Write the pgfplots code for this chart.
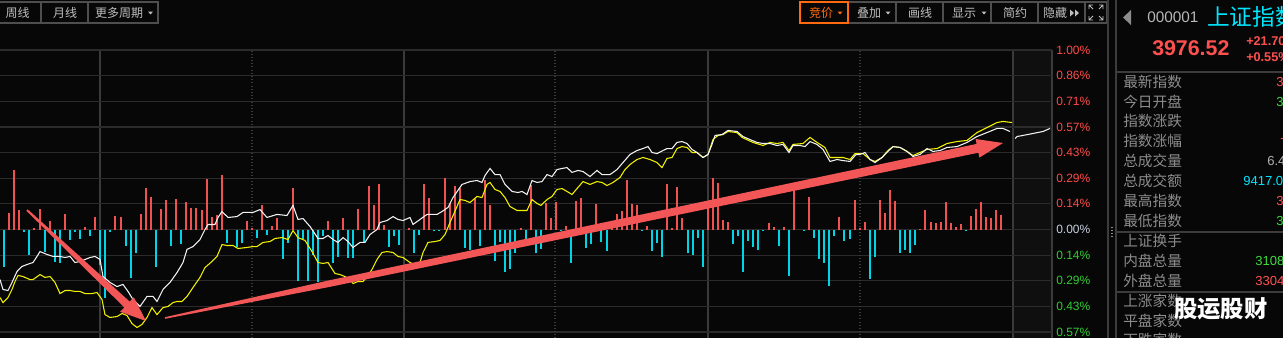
\documentclass[border=0pt]{standalone}
\usepackage{pgfplots}
\pgfplotsset{compat=1.18}
\usepackage{fontspec}
\setmainfont{Liberation Sans}
\newfontfamily\cjk{Noto Sans CJK SC}
\definecolor{bg}{HTML}{070707}
\definecolor{bgr}{HTML}{0F0F0F}
\definecolor{gridc}{HTML}{2B2B2B}
\definecolor{vgrid}{HTML}{3A3A3A}
\definecolor{zeroc}{HTML}{4A4A4A}
\definecolor{redt}{HTML}{FF4A4A}
\definecolor{greent}{HTML}{33CC33}
\definecolor{zerot}{HTML}{C8D0E0}
\definecolor{barred}{HTML}{F05252}
\definecolor{barcyan}{HTML}{00D4E6}
\definecolor{whiteline}{HTML}{F2F2F2}
\definecolor{yellowline}{HTML}{F2F200}
\definecolor{arrowc}{HTML}{F25656}
\definecolor{btntext}{HTML}{BEBEBE}
\definecolor{btnborder}{HTML}{4E4E4E}
\definecolor{orangec}{HTML}{FF6A10}
\definecolor{labelc}{HTML}{8C8C8C}
\definecolor{valred}{HTML}{FF5050}
\definecolor{valgreen}{HTML}{3CDC3C}
\definecolor{valcyan}{HTML}{00E6FF}
\definecolor{sepc}{HTML}{3C3C3C}
\pgfplotsset{myax/.style={at={(0bp,-253.5bp)}, anchor=south west, scale only axis,
  width=789bp, height=216bp, xmin=0, xmax=1052, clip=false}}
\begin{document}
\begin{tikzpicture}[
  btn/.style={anchor=center, inner sep=0pt, text=btntext, font=\cjk\fontsize{9bp}{10bp}\selectfont},
  lbl/.style={anchor=west, inner sep=0pt, text=labelc, font=\cjk\fontsize{11bp}{12bp}\selectfont},
  val/.style={anchor=west, inner sep=0pt, font=\fontsize{9.8bp}{11bp}\selectfont}]
\useasboundingbox (0bp,0bp) rectangle (962.25bp,-253.5bp);
\clip (0bp,0bp) rectangle (962.25bp,-253.5bp);
\begin{scope}[x=0.75bp,y=-0.75bp]
\fill[bg] (0,0) rectangle (1283,338);
\fill[bgr] (1013,50) rectangle (1052,338);
\end{scope}

% grid axis
\begin{axis}[myax, ymin=-0.6045, ymax=1.0,
  axis line style={draw=none}, tick style={draw=none},
  xtick={100,404,708,1013,1052}, xticklabels={},
  extra x ticks={252,555,860}, extra x tick labels={},
  extra x tick style={grid=major, major grid style={vgrid, dotted, line width=0.9bp}},
  ytick={-0.5714,-0.4286,-0.2857,-0.1429,0.1429,0.2857,0.4286,0.5714,0.7143,0.8571,1.0},
  yticklabels={\textcolor{greent}{0.57\%},\textcolor{greent}{0.43\%},\textcolor{greent}{0.29\%},\textcolor{greent}{0.14\%},
   \textcolor{redt}{0.14\%},\textcolor{redt}{0.29\%},\textcolor{redt}{0.43\%},\textcolor{redt}{0.57\%},\textcolor{redt}{0.71\%},\textcolor{redt}{0.86\%},\textcolor{redt}{1.00\%}},
  extra y ticks={0}, extra y tick labels={\textcolor{zerot}{0.00\%}},
  extra y tick style={grid=major, major grid style={zeroc, line width=1.4bp}},
  xmajorgrids, ymajorgrids,
  x grid style={vgrid, line width=1bp},
  y grid style={gridc, line width=0.9bp},
  yticklabel pos=right,
  yticklabel style={anchor=west, inner sep=0pt, xshift=3bp, font=\fontsize{9bp}{10bp}\selectfont}]
\end{axis}

% bars axis (own hidden scale)
\begin{axis}[myax, ymin=-108, ymax=180, hide axis]
\addplot[ycomb, draw=barred, line width=1.3bp, mark=none] coordinates {
(9,17)(14,60)(19,20)(34,2)(40,21)(50,9)(65,16)(85,3)(95,13)(115,14)(121,13)(141,16)(146,42)(151,33)(161,21)(166,30)(176,31)(186,28)(191,22)(196,22)(202,20)(207,51)(212,13)(217,15)(222,55)(247,9)(252,2)(262,25)(272,4)(277,12)(293,42)(328,9)(343,12)(358,21)(369,44)(374,25)(379,46)(384,5)(409,2)(424,46)(429,32)(445,52)(450,27)(455,44)(460,42)(475,32)(485,50)(490,25)(521,2)(531,45)(546,27)(551,12)(556,28)(566,4)(576,29)(581,32)(596,26)(612,2)(617,16)(622,19)(627,50)(632,26)(637,25)(647,4)(667,46)(672,2)(677,43)(682,12)(708,25)(713,52)(718,47)(723,10)(728,8)(769,7)(774,3)(784,3)(794,42)(809,33)(839,13)(855,30)(860,2)(865,8)(880,30)(885,17)(890,40)(895,29)(920,1)(925,20)(931,8)(936,7)(941,8)(946,28)(951,7)(956,3)(961,6)(971,14)(976,21)(981,28)(986,13)(991,12)(996,20)(1001,15)};
\addplot[ycomb, draw=barcyan, line width=1.3bp, mark=none] coordinates {
(4,-37)(24,-2)(29,-25)(45,-22)(55,-32)(60,-33)(70,-10)(75,-2)(80,-9)(90,-6)(100,-35)(105,-68)(110,-2)(126,-16)(131,-48)(136,-23)(156,-37)(171,-16)(181,-14)(227,-13)(237,-17)(242,-13)(257,-8)(267,-5)(283,-29)(288,-13)(298,-51)(303,-9)(308,-51)(313,-25)(318,-52)(323,-6)(333,-33)(338,-27)(348,-28)(353,-28)(364,-12)(389,-17)(394,-6)(399,-15)(414,-23)(419,-5)(434,-1)(439,-1)(465,-18)(470,-20)(480,-16)(495,-31)(500,-12)(505,-42)(510,-39)(515,-23)(526,-15)(536,-23)(541,-19)(561,-1)(571,-33)(586,-18)(591,-14)(601,-12)(607,-21)(642,-1)(652,-21)(657,-13)(662,-27)(688,-23)(693,-25)(698,-8)(703,-37)(733,-14)(738,-6)(743,-42)(748,-11)(753,-17)(758,-20)(763,-1)(779,-16)(789,-46)(804,-1)(814,-8)(819,-29)(824,-33)(829,-56)(834,-6)(844,-11)(850,-9)(870,-49)(875,-27)(900,-23)(905,-20)(910,-23)(915,-15)(966,-1)};
\end{axis}

% lines axis (percent)
\begin{axis}[myax, ymin=-0.6045, ymax=1.0, hide axis]
\addplot[yellowline, line width=0.8bp, mark=none] coordinates {
(0,-0.379)(3,-0.407)(8,-0.379)(12,-0.334)(15,-0.290)(18,-0.256)(23,-0.262)(30,-0.279)(33,-0.279)(40,-0.251)(45,-0.267)(50,-0.262)(55,-0.295)(60,-0.357)(65,-0.340)(70,-0.340)(75,-0.345)(80,-0.345)(85,-0.357)(92,-0.357)(97,-0.351)(102,-0.390)(105,-0.474)(110,-0.490)(117,-0.485)(122,-0.468)(127,-0.479)(132,-0.524)(137,-0.546)(142,-0.529)(147,-0.490)(152,-0.435)(157,-0.474)(163,-0.435)(168,-0.429)(173,-0.407)(177,-0.401)(182,-0.401)(187,-0.373)(193,-0.323)(200,-0.267)(205,-0.212)(212,-0.178)(217,-0.150)(222,-0.084)(227,-0.089)(233,-0.089)(238,-0.106)(247,-0.100)(253,-0.095)(257,-0.095)(263,-0.072)(270,-0.067)(275,-0.050)(282,-0.045)(288,-0.056)(293,-0.006)(298,-0.045)(305,-0.061)(312,-0.123)(318,-0.184)(323,-0.189)(328,-0.184)(335,-0.245)(340,-0.251)(345,-0.262)(350,-0.279)(353,-0.301)(358,-0.290)(363,-0.290)(367,-0.262)(372,-0.223)(377,-0.167)(382,-0.128)(387,-0.123)(393,-0.128)(398,-0.150)(403,-0.156)(410,-0.184)(417,-0.201)(420,-0.184)(423,-0.128)(428,-0.072)(435,-0.067)(440,-0.061)(445,-0.028)(450,0.039)(457,0.128)(460,0.167)(465,0.162)(470,0.150)(477,0.184)(482,0.178)(487,0.251)(490,0.262)(495,0.223)(500,0.212)(505,0.178)(510,0.128)(517,0.106)(527,0.106)(532,0.167)(537,0.145)(541,0.134)(547,0.167)(552,0.184)(557,0.223)(562,0.228)(567,0.212)(572,0.195)(577,0.228)(583,0.267)(590,0.251)(597,0.267)(602,0.262)(607,0.245)(613,0.262)(620,0.290)(625,0.334)(630,0.362)(637,0.390)(643,0.401)(650,0.390)(657,0.373)(662,0.345)(667,0.396)(672,0.401)(677,0.451)(682,0.462)(687,0.457)(692,0.429)(697,0.429)(703,0.401)(708,0.418)(713,0.501)(718,0.524)(723,0.529)(728,0.546)(737,0.540)(742,0.513)(753,0.485)(763,0.468)(770,0.485)(777,0.479)(783,0.485)(789,0.440)(793,0.474)(803,0.479)(810,0.513)(817,0.485)(825,0.457)(830,0.401)(837,0.401)(843,0.401)(850,0.390)(855,0.423)(863,0.423)(870,0.390)(875,0.379)(882,0.401)(888,0.440)(893,0.462)(900,0.457)(907,0.435)(913,0.412)(920,0.429)(927,0.446)(937,0.451)(947,0.479)(957,0.490)(967,0.496)(977,0.540)(987,0.568)(997,0.596)(1003,0.602)(1012,0.596)};
\addplot[whiteline, line width=0.8bp, mark=none] coordinates {
(0,-0.279)(3,-0.334)(8,-0.340)(12,-0.295)(17,-0.234)(22,-0.206)(27,-0.195)(33,-0.184)(37,-0.150)(40,-0.123)(47,-0.139)(53,-0.150)(60,-0.150)(65,-0.156)(70,-0.150)(75,-0.184)(80,-0.178)(85,-0.167)(90,-0.156)(95,-0.150)(100,-0.167)(103,-0.262)(110,-0.295)(117,-0.318)(123,-0.306)(128,-0.345)(133,-0.390)(140,-0.429)(147,-0.373)(153,-0.373)(157,-0.401)(163,-0.334)(170,-0.295)(177,-0.240)(183,-0.184)(187,-0.111)(193,-0.095)(200,-0.056)(205,0)(208,0.028)(215,0.028)(218,0.067)(222,0.100)(228,0.067)(237,0.072)(243,0.095)(253,0.095)(260,0.111)(267,0.067)(277,0.084)(287,0.078)(293,0.134)(298,0.056)(303,0.061)(310,0.017)(318,-0.050)(323,-0.050)(328,-0.033)(333,-0.056)(338,-0.072)(343,-0.045)(348,-0.067)(353,-0.100)(360,-0.072)(365,-0.072)(370,-0.028)(377,0)(380,0.039)(387,0.050)(393,0.072)(398,0.056)(403,0.050)(410,0.067)(413,0.028)(420,0.056)(427,0.084)(437,0.084)(442,0.100)(448,0.123)(453,0.178)(462,0.251)(470,0.267)(477,0.273)(482,0.262)(485,0.301)(490,0.340)(495,0.306)(500,0.306)(505,0.251)(512,0.212)(518,0.206)(522,0.212)(527,0.195)(532,0.273)(537,0.262)(542,0.267)(547,0.306)(552,0.295)(557,0.334)(562,0.340)(567,0.345)(572,0.318)(578,0.329)(583,0.323)(590,0.295)(597,0.329)(602,0.306)(610,0.306)(617,0.334)(623,0.373)(630,0.418)(637,0.440)(643,0.451)(648,0.462)(652,0.429)(657,0.423)(663,0.440)(667,0.451)(672,0.451)(677,0.485)(682,0.490)(687,0.479)(692,0.446)(697,0.429)(703,0.401)(708,0.418)(712,0.474)(715,0.524)(722,0.529)(728,0.552)(737,0.546)(743,0.518)(750,0.501)(757,0.485)(763,0.479)(770,0.479)(777,0.468)(783,0.474)(789,0.429)(793,0.468)(800,0.468)(805,0.462)(810,0.490)(817,0.474)(823,0.446)(830,0.379)(837,0.390)(843,0.384)(850,0.379)(856,0.418)(860,0.418)(865,0.429)(870,0.390)(875,0.373)(882,0.401)(888,0.435)(893,0.462)(900,0.457)(907,0.435)(913,0.407)(920,0.418)(927,0.451)(933,0.435)(940,0.440)(947,0.457)(957,0.462)(967,0.485)(977,0.518)(987,0.540)(997,0.563)(1003,0.563)(1010,0.546)};
\addplot[whiteline, line width=0.8bp, mark=none] coordinates {
(1015,0.507)(1017,0.518)(1023,0.524)(1033,0.535)(1043,0.546)(1050,0.563)};
\end{axis}

\begin{scope}[x=0.75bp,y=-0.75bp]
% annotation arrows
\fill[arrowc] (27.7,209.3) -- (129.7,301.6) -- (133.8,297.2) -- (146,321) -- (120.2,311.8) -- (124.3,307.4) -- (26.3,210.7) -- cycle;
\fill[arrowc] (164.8,317.2) -- (329.3,280.3) -- (976.6,143.9) -- (975.6,139.0) -- (1003,143) -- (979.4,157.6) -- (978.4,152.7) -- (330.7,286.7) -- (165.2,318.8) -- cycle;

% toolbar
\draw[btnborder, line width=0.9bp] (-1,2) rectangle (41,23) (41,2) rectangle (88,23) (88,2) rectangle (158,23);
\node[btn] at (17.5,13) {周线};
\node[btn] at (65,13) {月线};
\node[btn] at (119,13) {更多周期};
\fill[btntext] (148,11.5) -- (153,11.5) -- (150.5,14.5) -- cycle;
\draw[btnborder, line width=0.9bp] (848,2) rectangle (896,23) (896,2) rectangle (943,23) (943,2) rectangle (991,23) (991,2) rectangle (1038,23) (1038,2) rectangle (1085,23) (1085,2) rectangle (1107,23);
\draw[orangec, line width=0.9bp] (800,2) rectangle (848,23);
\node[btn, text=orangec] at (821,13) {竞价};
\fill[orangec] (837.5,11.5) -- (842.5,11.5) -- (840,14.5) -- cycle;
\node[btn] at (869,13) {叠加};
\fill[btntext] (885.5,11.5) -- (890.5,11.5) -- (888,14.5) -- cycle;
\node[btn] at (920,13) {画线};
\node[btn] at (964,13) {显示};
\fill[btntext] (981.5,11.5) -- (986.5,11.5) -- (984,14.5) -- cycle;
\node[btn] at (1015,13) {简约};
\node[btn] at (1055,13) {隐藏};
\fill[btntext] (1070,9.5) -- (1070,16.5) -- (1074,13) -- cycle;
\fill[btntext] (1075,9.5) -- (1075,16.5) -- (1079,13) -- cycle;
\draw[btntext, line width=0.7bp] (1089,9) -- (1089,5) -- (1093,5) (1089,5) -- (1093,9)
  (1103,9) -- (1103,5) -- (1099,5) (1103,5) -- (1099,9)
  (1089,16) -- (1089,20) -- (1093,20) (1089,20) -- (1093,16)
  (1103,16) -- (1103,20) -- (1099,20) (1103,20) -- (1099,16);

% sidebar
\draw[sepc, line width=1bp] (1108,0) -- (1108,338) (1116,0) -- (1116,338);
\draw[sepc, line width=1.2bp] (1116,72) -- (1283,72) (1116,232) -- (1283,232) (1116,292) -- (1283,292);
\foreach \yy in {227,230,233,236} \fill[labelc] (1111,\yy) rectangle (1113,\yy+1);
\fill[labelc] (1131,10) -- (1131,25) -- (1123,17.5) -- cycle;
\node[anchor=west, inner sep=0pt, text=btntext!110, font=\fontsize{11.5bp}{12bp}\selectfont] at (1147,17) {000001};
\node[anchor=west, inner sep=0pt, text=valcyan, font=\cjk\fontsize{17bp}{18bp}\selectfont] at (1207,17) {上证指数};
\node[anchor=west, inner sep=0pt, text=valred, font=\bfseries\fontsize{16bp}{17bp}\selectfont] at (1152,48) {3976.52};
\node[anchor=west, inner sep=0pt, text=valred, font=\bfseries\fontsize{9.5bp}{10bp}\selectfont] at (1246,41) {+21.70};
\node[anchor=west, inner sep=0pt, text=valred, font=\bfseries\fontsize{9.5bp}{10bp}\selectfont] at (1246,57) {+0.55\%};
\foreach \t/\yy in {最新指数/82,今日开盘/102,指数涨跌/121,指数涨幅/141,总成交量/161,总成交额/181,最高指数/201,最低指数/221,上证换手/241,内盘总量/261,外盘总量/281,上涨家数/301,平盘家数/321,下跌家数/340}
  \node[lbl] at (1123,\yy) {\t};
\node[val, text=valred] at (1276,82) {3};
\node[val, text=valgreen] at (1276,102) {3};
\node[val, text=valred] at (1280,141) {-};
\node[val, text=btntext!120] at (1267,161) {6.4};
\node[val, text=valcyan] at (1243,181) {9417.0};
\node[val, text=valred] at (1276,201) {3};
\node[val, text=valgreen] at (1276,221) {3};
\node[val, text=valgreen] at (1255,261) {3108};
\node[val, text=valred] at (1255,281) {3304};
\node[anchor=west, inner sep=0pt, text=white, font=\cjk\bfseries\fontsize{17.5bp}{18bp}\selectfont] at (1174,309) {股运股财};
\end{scope}
\end{tikzpicture}
\end{document}
